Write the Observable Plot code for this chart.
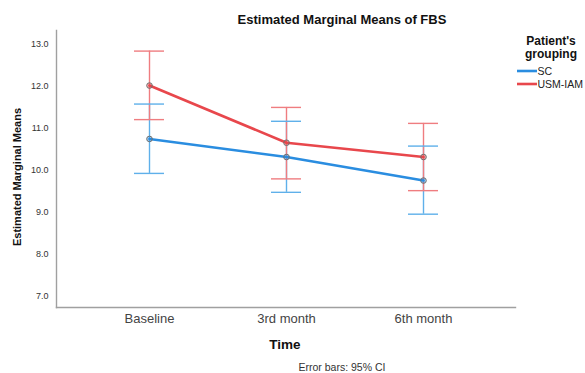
<!DOCTYPE html>
<html><head><meta charset="utf-8">
<script src="https://cdn.jsdelivr.net/npm/d3@7"></script>
<script src="https://cdn.jsdelivr.net/npm/@observablehq/plot@0.6"></script>
<style>body{margin:0;background:#fff}</style>
</head><body><div id="chart"></div>
<script>
const times = ["Baseline", "3rd month", "6th month"];
const groups = ["SC", "USM-IAM"];
const scMean = [10.75, 10.32, 9.76];
const scLow = [9.93, 9.48, 8.96];
const scHigh = [11.58, 11.17, 10.58];
const usmMean = [12.02, 10.66, 10.32];
const usmLow = [11.21, 9.80, 9.52];
const usmHigh = [12.84, 11.50, 11.12];
const yTicks = [7, 8, 9, 10, 11, 12, 13];
const lineColors = ["#2a8de0", "#e8474c"];
const barColors = ["#5fb0ea", "#ef7d80"];

const rows = [];
times.forEach((t, i) => {
  rows.push({time: t, group: groups[0], mean: scMean[i], lo: scLow[i], hi: scHigh[i]});
  rows.push({time: t, group: groups[1], mean: usmMean[i], lo: usmLow[i], hi: usmHigh[i]});
});
const barColor = d => barColors[groups.indexOf(d.group)];

const font = "'Liberation Sans', Arial, sans-serif";
const svg = Plot.plot({
  width: 585, height: 373,
  marginLeft: 56, marginRight: 70, marginTop: 30, marginBottom: 66,
  style: {fontFamily: font, background: "#fff", overflow: "visible"},
  x: {type: "band", domain: times, paddingInner: 0.782, paddingOuter: 0.56, label: null},
  y: {domain: [6.74, 13.33], label: null},
  color: {domain: groups, range: lineColors},
  marks: [
    Plot.ruleX(rows, {x: "time", y1: "lo", y2: "hi", stroke: barColor, strokeWidth: 1.4}),
    Plot.tickY(rows, {x: "time", y: "hi", stroke: barColor, strokeWidth: 1.4}),
    Plot.tickY(rows, {x: "time", y: "lo", stroke: barColor, strokeWidth: 1.4}),
    Plot.line(rows, {x: "time", y: "mean", z: "group", stroke: "group", strokeWidth: 2.6}),
    Plot.dot(rows, {x: "time", y: "mean", r: 2.8, fill: "group", fillOpacity: 0.4, stroke: "#707070", strokeWidth: 1}),
    Plot.axisY({ticks: yTicks, tickFormat: d => d.toFixed(1), tickSize: 0, tickPadding: 8, fontSize: 9, fill: "#333"}),
    Plot.axisX({tickSize: 0, tickPadding: 6, fontSize: 13, fill: "#444"}),
    Plot.frame({anchor: "left", stroke: "#a0a0a0", strokeWidth: 1.4}),
    Plot.frame({anchor: "bottom", stroke: "#a0a0a0", strokeWidth: 1.4})
  ]
});

const s = d3.select(svg);
const addText = (x, y, txt, opts = {}) => s.append("text")
  .attr("x", x).attr("y", y).text(txt)
  .attr("font-family", font)
  .attr("font-size", opts.size || 12)
  .attr("font-weight", opts.bold ? "bold" : "normal")
  .attr("text-anchor", opts.anchor || "middle")
  .attr("fill", opts.fill || "#111")
  .attr("transform", opts.rotate ? `rotate(-90 ${x} ${y})` : null);

addText(342, 24, "Estimated Marginal Means of FBS", {size: 13, bold: true});
addText(21, 177, "Estimated Marginal Means", {size: 11, bold: true, rotate: true});
addText(285, 349, "Time", {size: 13.5, bold: true});
addText(342, 371, "Error bars: 95% CI", {size: 10.5, fill: "#333"});
addText(551, 45, "Patient's", {size: 12, bold: true});
addText(551, 58, "grouping", {size: 12, bold: true});
groups.forEach((g, i) => {
  const y = 71 + i * 13;
  s.append("line").attr("x1", 517).attr("x2", 537).attr("y1", y).attr("y2", y)
    .attr("stroke", lineColors[i]).attr("stroke-width", 2.6);
  addText(537.5, y + 4, g, {size: 10.5, anchor: "start", fill: "#222"});
});

document.getElementById("chart").appendChild(svg);
</script>
</body></html>
